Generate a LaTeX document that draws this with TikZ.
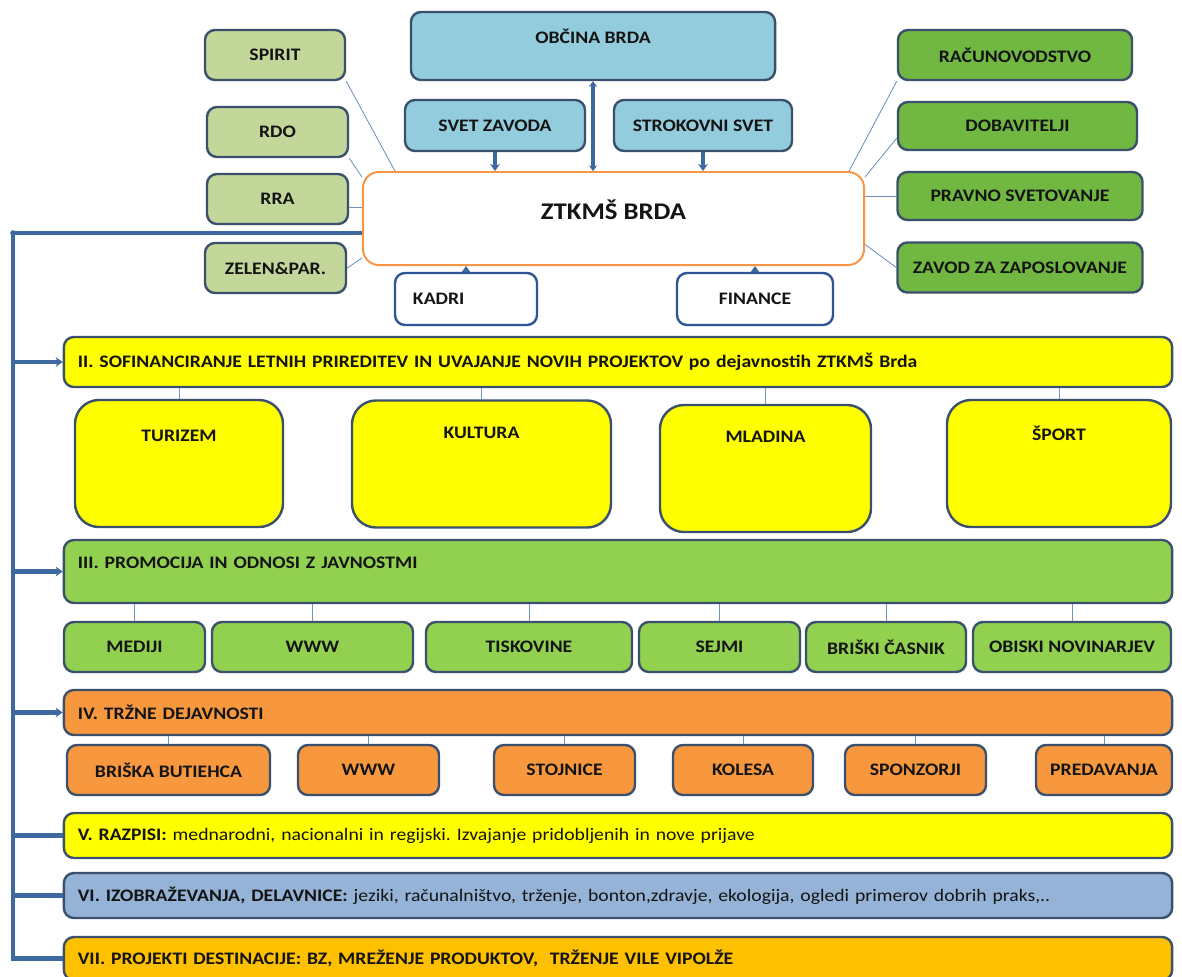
\documentclass[tikz,border=0pt]{standalone}
\usepackage{fontspec}
\setmainfont{Carlito}[FakeStretch=1.12]
\usetikzlibrary{arrows.meta}
\frenchspacing

\definecolor{boxline}{RGB}{58,80,108}
\definecolor{spine}{RGB}{62,104,160}
\definecolor{thin}{RGB}{112,144,192}
\definecolor{txt}{RGB}{20,20,20}
\definecolor{lgreen}{RGB}{196,215,155}
\definecolor{lblue}{RGB}{147,205,221}
\definecolor{dgreen}{RGB}{112,184,66}
\definecolor{lime}{RGB}{146,208,80}
\definecolor{yel}{RGB}{255,255,0}
\definecolor{orng}{RGB}{247,152,62}
\definecolor{grayblue}{RGB}{149,179,215}
\definecolor{amber}{RGB}{255,192,0}
\definecolor{ztkline}{RGB}{247,150,70}
\definecolor{navy}{RGB}{46,85,150}

\tikzset{
  box/.style={draw=boxline, line width=1.7pt, rounded corners=0.25cm, text=txt,
    font=\bfseries\fontsize{12.5}{14}\selectfont, inner sep=2pt, minimum height=1.25cm},
  lbox/.style={box, fill=lgreen},
  bbox/.style={box, fill=lblue},
  gbox/.style={box, fill=dgreen},
  wbox/.style={box, fill=white, draw=navy, minimum height=1.3cm},
  ybig/.style={box, fill=yel, rounded corners=0.6cm, minimum height=3.175cm},
  pbox/.style={box, fill=lime},
  obox/.style={box, fill=orng},
  bar/.style={box, text width=27.0cm, inner xsep=0.35cm, align=left,
    font=\fontsize{12.5}{14}\selectfont},
  toplbl/.style={anchor=north, inner sep=0pt, text=txt, font=\bfseries\fontsize{12.5}{14}\selectfont},
  link/.style={draw=thin, line width=0.6pt},
  feed/.style={draw=spine, line width=3pt},
  tip/.style={-{Stealth[length=5pt,width=7pt]}},
}

\begin{document}
\begin{tikzpicture}[x=0.025cm, y=-0.025cm]

  \fill[white] (0,0) rectangle (1182,976);
  \useasboundingbox (0,0) rectangle (1182,976);

  %% Top: municipality and councils
  \node[bbox, minimum width=9.1cm, minimum height=1.7cm,
    label={[toplbl, yshift=-0.45cm]north:OBČINA BRDA}] (obcina) at (593,46) {};
  \node[bbox, minimum width=4.5cm, minimum height=1.275cm] (svet) at (495,125.5) {SVET ZAVODA};
  \node[bbox, minimum width=4.45cm, minimum height=1.275cm] (strok) at (703,125.5) {STROKOVNI SVET};

  % Central institute
  \node[box, fill=white, draw=ztkline, line width=1.4pt, rounded corners=0.4cm,
    minimum width=12.525cm, minimum height=2.325cm, text height=0.38cm, text depth=0.32cm,
    font=\bfseries\fontsize{17}{19}\selectfont] (ztk) at (613.5,218.5) {ZTKMŠ BRDA};

  % Left partners
  \node[lbox, minimum width=3.5cm] (spirit) at (275,55) {SPIRIT};
  \node[lbox, minimum width=3.525cm] (rdo) at (277.5,132) {RDO};
  \node[lbox, minimum width=3.525cm] (rra) at (277.5,199) {RRA};
  \node[lbox, minimum width=3.525cm] (zelen) at (275.5,268) {ZELEN\&PAR.};

  % Right partners
  \node[gbox, minimum width=5.85cm] (racun) at (1015,55) {RAČUNOVODSTVO};
  \node[gbox, minimum width=5.975cm, minimum height=1.2cm] (dobav) at (1017.5,126) {DOBAVITELJI};
  \node[gbox, minimum width=6.125cm, minimum height=1.2cm] (pravno) at (1020,196) {PRAVNO SVETOVANJE};
  \node[gbox, minimum width=6.125cm] (zavod) at (1020,267.5) {ZAVOD ZA ZAPOSLOVANJE};

  % Staff and finance
  \node[wbox, text width=2.65cm, inner xsep=0.45cm, align=left] (kadri) at (466,299) {KADRI};
  \node[wbox, minimum width=3.9cm] (finance) at (755,299) {FINANCE};

  % Links to the institute
  \draw[feed, {Stealth[length=4pt,width=6pt]}-{Stealth[length=4pt,width=6pt]}, line width=2.5pt]
    (obcina.south) -- (obcina.south |- ztk.north);
  \draw[feed, tip, line width=2.5pt] (svet.south) -- (svet.south |- ztk.north);
  \draw[feed, tip, line width=2.5pt] (strok.south) -- (strok.south |- ztk.north);
  \draw[feed, tip, line width=2.5pt] (kadri.north) -- (kadri.north |- ztk.south);
  \draw[feed, tip, line width=2.5pt] (finance.north) -- (finance.north |- ztk.south);

  \draw[link] (spirit.south east) -- ([xshift=0.825cm]ztk.north west);
  \draw[link] (rdo.south east) -- ([yshift=-0.15cm]ztk.north west);
  \draw[link] ([yshift=-0.2cm]rra.east) -- ([yshift=-0.2cm]rra.east -| ztk.west);
  \draw[link] (zelen.east) -- ([yshift=0.2cm]ztk.south west);
  \draw[link] (racun.south west) -- ([xshift=-0.4cm]ztk.north east);
  \draw[link] ([yshift=-0.3cm]dobav.west) -- ([yshift=-0.15cm]ztk.north east);
  \draw[link] (pravno.west) -- (pravno.west -| ztk.east);
  \draw[link] (zavod.west) -- ([yshift=-0.65cm]ztk.east);

  %% Programme areas
  % II. co-financing
  \node[bar, fill=yel, minimum height=1.25cm] (sec2) at (618,362)
    {\textbf{II. SOFINANCIRANJE LETNIH PRIREDITEV IN UVAJANJE NOVIH PROJEKTOV po dejavnostih ZTKMŠ Brda}};
  \node[ybig, minimum width=5.2cm, label={[toplbl, yshift=-0.78cm]north:TURIZEM}] (turizem) at (179,463.5) {};
  \node[ybig, minimum width=6.475cm, label={[toplbl, yshift=-0.68cm]north:KULTURA}] (kultura) at (481.5,464) {};
  \node[ybig, minimum width=5.275cm, label={[toplbl, yshift=-0.68cm]north:MLADINA}] (mladina) at (765.5,468.5) {};
  \node[ybig, minimum width=5.6cm, label={[toplbl, yshift=-0.68cm]north:ŠPORT}] (sport) at (1059,463.5) {};
  \foreach \n in {turizem,kultura,mladina,sport}
    \draw[link] (\n.north) -- (\n.north |- sec2.south);

  % III. promotion
  \node[bar, fill=lime, minimum height=1.575cm, text height=0.3cm, text depth=0.45cm] (sec3) at (618,571.5)
    {\textbf{III. PROMOCIJA IN ODNOSI Z JAVNOSTMI}};
  \node[pbox, minimum width=3.525cm] (mediji) at (134.5,647) {MEDIJI};
  \node[pbox, minimum width=5.025cm] (www1) at (312.5,647) {WWW};
  \node[pbox, minimum width=5.15cm] (tisk) at (529,647) {TISKOVINE};
  \node[pbox, minimum width=4.025cm] (sejmi) at (719.5,647) {SEJMI};
  \node[pbox, minimum width=4.0cm] (brcas) at (886,647) {BRIŠKI ČASNIK};
  \node[pbox, minimum width=4.95cm] (obiski) at (1072,647) {OBISKI NOVINARJEV};
  \foreach \n in {mediji,www1,tisk,sejmi,brcas,obiski}
    \draw[link] (\n.north) -- (\n.north |- sec3.south);

  % IV. market activities
  \node[bar, fill=orng, minimum height=1.125cm] (sec4) at (618,712.5)
    {\textbf{IV. TRŽNE DEJAVNOSTI}};
  \node[obox, minimum width=5.075cm] (butiehca) at (168.5,770) {BRIŠKA BUTIEHCA};
  \node[obox, minimum width=3.525cm] (www2) at (368.5,770) {WWW};
  \node[obox, minimum width=3.525cm] (stojnice) at (564.5,770) {STOJNICE};
  \node[obox, minimum width=3.5cm] (kolesa) at (743,770) {KOLESA};
  \node[obox, minimum width=3.525cm] (sponzorji) at (915.5,770) {SPONZORJI};
  \node[obox, minimum width=3.4cm] (predav) at (1104,770) {PREDAVANJA};
  \foreach \n in {butiehca,www2,stojnice,kolesa,sponzorji,predav}
    \draw[link] (\n.north) -- (\n.north |- sec4.south);

  % V. - VII.
  \node[bar, fill=yel, minimum height=1.125cm] (sec5) at (618,835.5)
    {\textbf{V. RAZPISI:} mednarodni, nacionalni in regijski. Izvajanje pridobljenih in nove prijave};
  \node[bar, fill=grayblue, minimum height=1.125cm] (sec6) at (618,895.5)
    {\textbf{VI. IZOBRAŽEVANJA, DELAVNICE:} jeziki, računalništvo, trženje, bonton,zdravje, ekologija, ogledi primerov dobrih praks,..};
  \node[bar, fill=amber, minimum height=1.075cm] (sec7) at (618,958.5)
    {\textbf{VII. PROJEKTI DESTINACIJE: BZ, MREŽENJE PRODUKTOV,\ \ TRŽENJE VILE VIPOLŽE}};

  %% Feed line from the institute
  \coordinate (spinetop) at (13,233);
  \fill[spine] (spinetop) circle (0.07cm);
  \draw[feed] (spinetop -| ztk.west) -- (spinetop) -- (spinetop |- sec7.west) -- (sec7.west);
  \foreach \n in {sec2,sec3,sec4}
    \draw[feed, tip] (spinetop |- \n.west) -- (\n.west);
  \foreach \n in {sec5,sec6}
    \draw[feed] (spinetop |- \n.west) -- (\n.west);

\end{tikzpicture}
\end{document}
